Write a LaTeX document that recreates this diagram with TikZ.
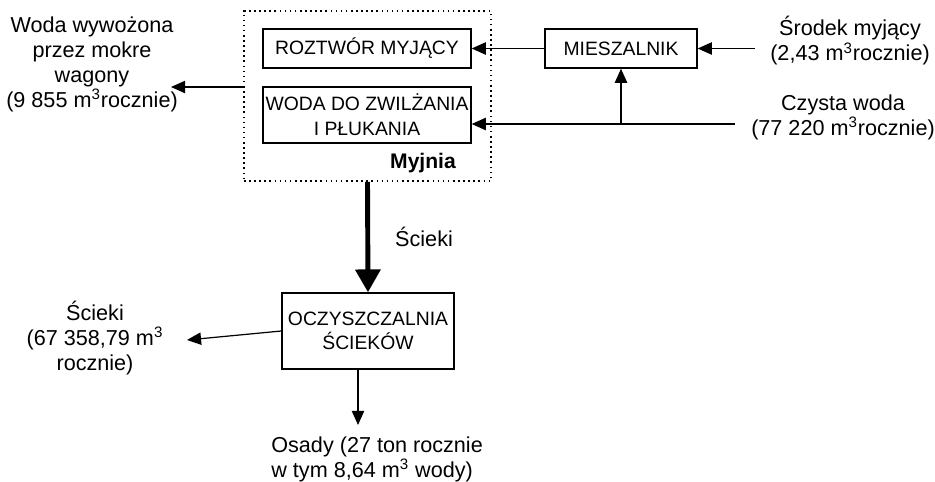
\documentclass[tikz,border=0pt]{standalone}
\usepackage{fontspec}
\setmainfont{Liberation Sans}
\usetikzlibrary{arrows.meta,positioning,calc}

\begin{document}
\begin{tikzpicture}[
    blk/.style={draw, line width=0.8pt, align=center, inner sep=0pt},
    arr/.style={-{Triangle[length=8pt,width=7pt]}, line width=0.7pt},
    thk/.style={-{Triangle[length=13pt,width=14pt]}, line width=2.8pt},
    txt/.style={align=center, inner sep=0pt, font=\fontsize{12.3}{14.2}\selectfont},
    font=\fontsize{11}{14}\selectfont
]
\useasboundingbox (0,0) rectangle (18.70,-9.64);
\node[draw, dotted, line width=0.9pt, minimum width=4.94cm, minimum height=3.40cm] (myj) at (7.35,-1.92) {};
\node[blk, minimum width=4.16cm, minimum height=0.78cm] (roz) at (7.34,-0.97) {ROZTWÓR MYJĄCY};
\node[blk, minimum width=4.16cm, minimum height=1.12cm] (woda) at (7.34,-2.30) {WODA DO ZWILŻANIA\\I PŁUKANIA};
\node[txt, font=\fontsize{12}{14}\selectfont\bfseries] (myjl) at (8.46,-3.26) {Myjnia};
\node[blk, minimum width=3.04cm, minimum height=0.78cm] (mix) at (12.42,-0.97) {MIESZALNIK};
\node[blk, minimum width=3.44cm, minimum height=1.52cm] (ocz) at (7.36,-6.62) {OCZYSZCZALNIA\\ŚCIEKÓW};

\node[txt] (wyw) at (1.84,-1.29) {Woda wywożona\\przez mokre\\wagony\\(9 855 m\textsuperscript{3}rocznie)};
\node[txt] (srod) at (17.00,-0.82) {Środek myjący\\(2,43 m\textsuperscript{3}rocznie)};
\node[txt] (czy) at (16.86,-2.35) {Czysta woda\\(77 220 m\textsuperscript{3}rocznie)};
\node[txt] (sci) at (1.90,-6.76) {Ścieki\\(67 358,79 m\textsuperscript{3}\\rocznie)};
\node[txt, align=left, anchor=west] (osady) at (5.42,-9.19) {Osady (27 ton rocznie\\w tym 8,64 m\textsuperscript{3} wody)};

\coordinate (wyw-in) at (3.42,-1.74);
\coordinate (srod-out) at (15.10,-0.97);
\coordinate (czy-out) at (14.70,-2.48);
\coordinate (sci-in) at (3.74,-6.80);
\coordinate (osady-in) at (7.16,-8.50);

\draw[arr] (srod-out) -- (mix);
\draw[arr] (mix) -- (roz);
\draw[arr] (czy-out) -- (czy-out -| woda.east);
\draw[arr] (czy-out -| mix) -- (mix);
\draw[arr] (myj.west |- wyw-in) -- (wyw-in);
\draw[thk] (myj.south) -- node[txt, right=0.5cm] {Ścieki} (ocz.north);
\draw[arr] (ocz.west) -- (sci-in);
\draw[arr] (ocz.south -| osady-in) -- (osady-in);
\end{tikzpicture}
\end{document}
